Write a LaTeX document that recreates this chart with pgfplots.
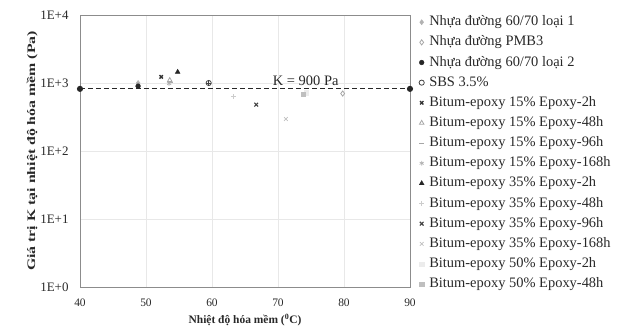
\documentclass[border=0pt]{standalone}
\usepackage{fontspec}
\setmainfont{Liberation Serif}
\usepackage{graphicx}
\usepackage{pgfplots}
\pgfplotsset{compat=1.18}
\usetikzlibrary{plotmarks}
\definecolor{axisgray}{RGB}{140,140,140}
\definecolor{txt}{RGB}{40,40,40}
\begin{document}
\begin{tikzpicture}
\begin{axis}[
  scale only axis, width=330bp, height=272bp,
  xmin=40, xmax=90, ymode=log, log basis y=10, ymin=1, ymax=10000,
  xtick={40,50,60,70,80,90},
  ytick={1,10,100,1000,10000},
  yticklabels={1E+0,1E+1,1E+2,1E+3,1E+4},
  major tick length=0pt,
  grid=major, grid style={gray!18, line width=0.6pt},
  axis line style={axisgray, line width=0.8pt},
  /pgf/number format/assume math mode=true,
  x tick label style={font=\fontsize{11.5}{12}\selectfont, text=txt, yshift=-8bp},
  y tick label style={font=\fontsize{13}{14}\selectfont, text=txt, xshift=-8bp},
  xlabel={\bfseries Nhiệt độ hóa mềm (\textsuperscript{0}C)},
  xlabel style={font=\fontsize{11.5}{12}\selectfont, text=txt, yshift=-1bp},
  ylabel={\scalebox{1.38}[1]{\bfseries Giá trị K tại nhiệt độ hóa mềm (Pa)}},
  ylabel style={font=\fontsize{11.5}{12}\selectfont, text=txt, yshift=-4bp},
  legend cell align=left,
  legend style={draw=none, fill=none, at={(1.027,1.0)}, anchor=north west,
    font=\fontsize{14.5}{15}\selectfont, text=txt, inner sep=0pt,
    nodes={inner sep=0pt, text height=10.5bp, text depth=3.5bp},
    row sep=6.15bp, /tikz/every odd column/.style={column sep=5bp}},
  legend image code/.code={\draw[mark repeat=2,mark phase=2] plot coordinates {(0bp,0bp)(4bp,0bp)(8bp,0bp)};},
  mark size=2.3pt,
]
\coordinate (o) at (rel axis cs:0,0);
% reference line
\addplot[black!85, dashed, dash pattern=on 5bp off 3bp, line width=0.9pt, mark=*, mark size=2.6pt, mark options={solid}, forget plot]
  coordinates {(40,820) (90,820)};
\node[font=\fontsize{14.5}{15}\selectfont, text=txt] at (axis cs:74.2,1070) {K = 900 Pa};
% series
\addplot[only marks, mark=diamond*, mark size=2.6pt, color=gray!60] coordinates {(48.8,1000)};
\addlegendentry{Nhựa đường 60/70 loại 1}
\addplot[only marks, mark=diamond, mark size=2.6pt, color=gray!70, mark options={line width=0.8pt}] coordinates {(79.8,700)};
\addlegendentry{Nhựa đường PMB3}
\addplot[only marks, mark=*, mark size=2.4pt, color=black!85] coordinates {(48.8,900)};
\addlegendentry{Nhựa đường 60/70 loại 2}
\addplot[only marks, mark=o, mark size=2.6pt, color=black!75, mark options={line width=0.8pt}] coordinates {(59.5,1000)};
\addlegendentry{SBS 3.5\%}
\addplot[only marks, mark=x, mark size=2.4pt, color=black!80, mark options={line width=1.4pt}] coordinates {(52.3,1230)};
\addlegendentry{Bitum-epoxy 15\% Epoxy-2h}
\addplot[only marks, mark=triangle, mark size=2.6pt, color=gray!70, mark options={line width=0.8pt}] coordinates {(53.6,1100)};
\addlegendentry{Bitum-epoxy 15\% Epoxy-48h}
\addplot[only marks, mark=-, mark size=2.4pt, color=gray!70, mark options={line width=0.8pt}] coordinates {(53.7,1020)};
\addlegendentry{Bitum-epoxy 15\% Epoxy-96h}
\addplot[only marks, mark=asterisk, mark size=2.4pt, color=gray!60, mark options={line width=0.7pt}] coordinates {(53.5,980)};
\addlegendentry{Bitum-epoxy 15\% Epoxy-168h}
\addplot[only marks, mark=triangle*, mark size=2.8pt, color=black!85] coordinates {(54.8,1450)};
\addlegendentry{Bitum-epoxy 35\% Epoxy-2h}
\addplot[only marks, mark=+, mark size=2.6pt, color=gray!40, mark options={line width=0.8pt}] coordinates {(63.3,630)};
\addlegendentry{Bitum-epoxy 35\% Epoxy-48h}
\addplot[only marks, mark=x, mark size=2.6pt, color=black!75, mark options={line width=1.1pt}] coordinates {(66.7,480)};
\addlegendentry{Bitum-epoxy 35\% Epoxy-96h}
\addplot[only marks, mark=x, mark size=2.6pt, color=gray!50, mark options={line width=0.7pt}] coordinates {(71.2,295)};
\addlegendentry{Bitum-epoxy 35\% Epoxy-168h}
\addplot[only marks, mark=square*, mark size=2.2pt, color=gray!15] coordinates {(74.3,720)};
\addlegendentry{Bitum-epoxy 50\% Epoxy-2h}
\addplot[only marks, mark=square*, mark size=2.2pt, color=gray!50] coordinates {(73.8,680)};
\addlegendentry{Bitum-epoxy 50\% Epoxy-48h}
% plus inside the SBS circle
\addplot[only marks, mark=+, mark size=2.4pt, color=black!75, mark options={line width=0.7pt}, forget plot] coordinates {(59.5,1000)};
\end{axis}
\pgfresetboundingbox
\path (o) ++(-80bp,-47bp) rectangle ++(637bp,334bp);
\end{tikzpicture}
\end{document}
